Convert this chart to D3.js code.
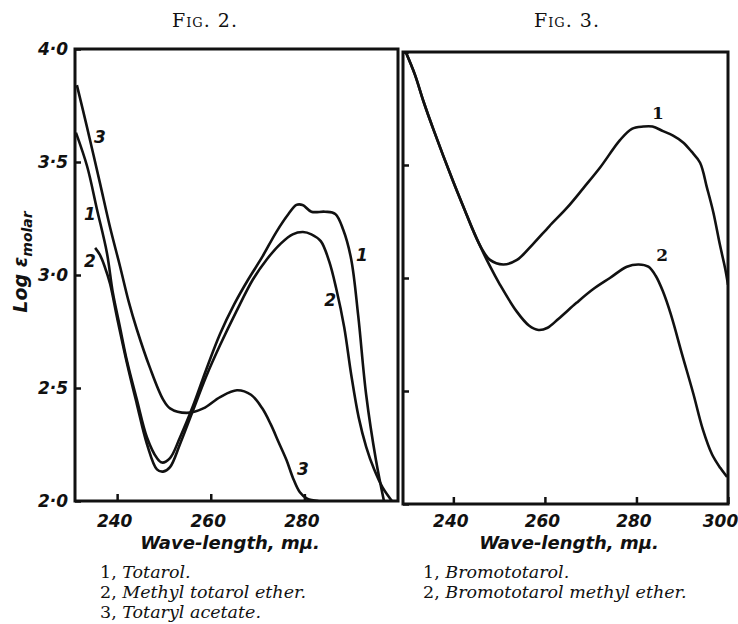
<!DOCTYPE html>
<html>
<head>
<meta charset="utf-8">
<script src="https://cdn.jsdelivr.net/npm/d3@7"></script>
<style>
  body { margin: 0; background: #fff; }
  svg { display: block; }
  .axis .tick text { font-family: 'DejaVu Sans'; font-weight: bold; font-style: italic; font-size: 17px; fill: #111; }
  .axis .tick line { stroke: #111; stroke-width: 2.5; }
  .axis .domain { display: none; }
</style>
</head>
<body>
<div id="chart"></div>
<script>
// Fig. 2 curves: [wave-length mu, log eps]
const totarol = [[231.2,3.63],[233.6,3.48],[235.7,3.29],[237.8,3.10],[239.1,2.92],[240.5,2.78],[242.1,2.62],[244.2,2.45],[246.4,2.28],[248.5,2.19],[249.6,2.17],[251.3,2.19],[253.4,2.28],[256.2,2.42],[259.0,2.58],[262.0,2.74],[265.0,2.87],[268.0,2.98],[271.0,3.08],[274.0,3.19],[276.6,3.27],[278.3,3.31],[279.6,3.31],[281.5,3.28],[284.4,3.28],[286.6,3.27],[288.3,3.20],[290.0,3.07],[291.5,2.82],[293.2,2.47],[295.3,2.18],[297.0,2.0]];
const methylTotarolEther = [[235.3,3.12],[236.3,3.09],[237.3,3.04],[238.5,2.96],[240.0,2.81],[242.1,2.61],[244.2,2.43],[246.4,2.25],[248.5,2.14],[249.8,2.13],[251.3,2.15],[253.4,2.25],[256.2,2.40],[259.0,2.55],[262.0,2.69],[265.5,2.84],[269.0,2.98],[272.0,3.07],[275.0,3.14],[277.5,3.18],[279.7,3.19],[281.5,3.18],[283.5,3.15],[285.3,3.06],[286.8,2.94],[288.5,2.77],[290.0,2.56],[291.6,2.37],[293.2,2.24],[294.9,2.14],[296.7,2.06],[298.7,2.0]];
const totarylAcetate = [[231.4,3.84],[233.5,3.66],[236.3,3.41],[238.5,3.21],[240.6,3.04],[242.5,2.88],[244.2,2.76],[247.0,2.59],[249.8,2.45],[251.3,2.41],[254.9,2.39],[258.4,2.41],[262.0,2.46],[265.6,2.49],[268.6,2.47],[271.0,2.41],[272.8,2.34],[274.5,2.26],[276.2,2.18],[277.6,2.10],[279.0,2.04],[280.6,2.01],[283.0,2.0]];

// Fig. 3 curves
const bromototarol = [[229.6,4.0],[231.6,3.90],[233.5,3.78],[235.6,3.66],[239.9,3.43],[242.5,3.30],[244.3,3.21],[246.2,3.13],[248.0,3.08],[250.9,3.06],[253.9,3.08],[257.4,3.15],[261.0,3.23],[264.8,3.31],[268.5,3.40],[272.1,3.49],[276.4,3.61],[279.0,3.66],[281.5,3.67],[283.5,3.67],[285.8,3.65],[288.0,3.63],[290.2,3.60],[292.0,3.56],[293.9,3.51],[295.4,3.40],[296.8,3.29],[298.2,3.15],[299.4,3.04],[300.0,2.97]];
const bromototarolMethylEther = [[229.6,4.0],[231.6,3.90],[233.5,3.78],[235.6,3.66],[239.9,3.43],[242.5,3.30],[245.2,3.17],[247.8,3.06],[250.2,2.97],[253.9,2.85],[256.5,2.79],[258.6,2.77],[260.6,2.78],[263.0,2.82],[266.9,2.89],[270.5,2.95],[274.2,3.00],[277.9,3.05],[280.5,3.06],[282.6,3.05],[284.2,3.01],[285.8,2.94],[287.5,2.84],[290.0,2.66],[292.4,2.49],[294.5,2.33],[296.5,2.22],[298.3,2.16],[299.8,2.12]];

const yTicks = [2.0, 2.5, 3.0, 3.5, 4.0];
const fig2XTicks = [240, 260, 280];
const fig3XTicks = [240, 260, 280, 300];
const fig2Legend = [['1,', 'Totarol.'], ['2,', 'Methyl totarol ether.'], ['3,', 'Totaryl acetate.']];
const fig3Legend = [['1,', 'Bromototarol.'], ['2,', 'Bromototarol methyl ether.']];

const svg = d3.select('#chart').append('svg')
  .attr('width', 738)
  .attr('height', 624);

function drawPanel(p) {
  const x = d3.scaleLinear().domain(p.xDomain).range([p.left, p.right]);
  const y = d3.scaleLinear().domain([2, 4]).range([p.bottom, p.top]);
  const g = svg.append('g');
  const clipId = 'clip' + p.id;

  g.append('clipPath').attr('id', clipId)
    .append('rect')
    .attr('x', p.left).attr('y', p.top)
    .attr('width', p.right - p.left).attr('height', p.bottom - p.top);

  /* axes */
  const xAxis = d3.axisBottom(x)
    .tickValues(p.xTicks)
    .tickSizeInner(-7)
    .tickSizeOuter(0)
    .tickPadding(0)
    .tickFormat(d3.format('d'));
  const xg = g.append('g')
    .attr('class', 'axis')
    .attr('transform', `translate(0, ${p.bottom})`)
    .call(xAxis);
  xg.selectAll('.tick text')
    .attr('y', 527 - p.bottom)
    .attr('dy', 0)
    .attr('dx', d => d === 300 ? -8 : -3);

  const yAxis = d3.axisLeft(y)
    .tickValues(yTicks)
    .tickSizeInner(-6)
    .tickSizeOuter(0)
    .tickPadding(7)
    .tickFormat(d => p.yLabels ? d3.format('.1f')(d).replace('.', '\u00b7') : '');
  g.append('g')
    .attr('class', 'axis')
    .attr('transform', `translate(${p.left}, 0)`)
    .call(yAxis);

  /* frame */
  g.append('rect')
    .attr('x', p.left).attr('y', p.top)
    .attr('width', p.right - p.left).attr('height', p.bottom - p.top)
    .style('fill', 'none')
    .style('stroke', '#111')
    .style('stroke-width', 3);

  /* curves */
  const line = d3.line()
    .x(d => x(d[0]))
    .y(d => y(d[1]))
    .curve(d3.curveCatmullRom.alpha(0.5));
  g.append('g')
    .attr('clip-path', `url(#${clipId})`)
    .selectAll('path')
    .data(p.series)
    .enter().append('path')
    .attr('d', line)
    .style('fill', 'none')
    .style('stroke', '#111')
    .style('stroke-width', 2.6)
    .style('stroke-linejoin', 'round');

  /* curve numbers */
  g.selectAll('.num')
    .data(p.numbers)
    .enter().append('text')
    .attr('x', d => x(d[1]))
    .attr('y', d => y(d[2]))
    .attr('dy', '0.35em')
    .style('text-anchor', 'middle')
    .style('font-family', p.numFont)
    .style('font-weight', 'bold')
    .style('font-style', p.numItalic ? 'italic' : 'normal')
    .style('font-size', '17px')
    .style('fill', '#111')
    .text(d => d[0]);

  /* title */
  g.append('text')
    .attr('x', p.titleX).attr('y', 27)
    .style('text-anchor', 'middle')
    .style('font-family', 'DejaVu Serif')
    .style('font-variant', 'small-caps')
    .style('font-size', '19px')
    .style('letter-spacing', '1px')
    .style('fill', '#111')
    .text(p.title);

  /* x label */
  g.append('text')
    .attr('x', p.xLabelX).attr('y', 549)
    .style('text-anchor', 'middle')
    .style('font-family', 'DejaVu Sans')
    .style('font-weight', 'bold')
    .style('font-style', 'italic')
    .style('font-size', '18px')
    .style('fill', '#111')
    .text('Wave-length, m\u03bc.');

  /* legend */
  const leg = g.selectAll('.legend')
    .data(p.legend)
    .enter().append('text')
    .attr('x', p.legendX)
    .attr('y', (d, i) => 578 + i * 20)
    .style('font-family', 'DejaVu Serif')
    .style('font-size', '17.5px')
    .style('fill', '#111');
  leg.append('tspan').text(d => d[0] + ' ');
  leg.append('tspan').style('font-style', 'italic').text(d => d[1]);
}

drawPanel({
  id: 2, left: 75, right: 398, top: 49, bottom: 501,
  xDomain: [231, 300], xTicks: fig2XTicks, yLabels: true,
  series: [totarol, methylTotarolEther, totarylAcetate],
  numbers: [['3', 236.3, 3.61], ['1', 234.2, 3.27], ['2', 234.2, 3.06],
            ['1', 292.3, 3.09], ['2', 285.5, 2.89], ['3', 279.7, 2.14]],
  numFont: 'DejaVu Sans', numItalic: true,
  title: 'Fig. 2.', titleX: 205, xLabelX: 230,
  legend: fig2Legend, legendX: 100
});

drawPanel({
  id: 3, left: 403, right: 728, top: 52, bottom: 504,
  xDomain: [229, 300], xTicks: fig3XTicks, yLabels: false,
  series: [bromototarol, bromototarolMethylEther],
  numbers: [['1', 284.7, 3.73], ['2', 285.6, 3.10]],
  numFont: 'DejaVu Serif', numItalic: false,
  title: 'Fig. 3.', titleX: 567, xLabelX: 569,
  legend: fig3Legend, legendX: 423
});

/* y axis title */
const yTitle = svg.append('text')
  .attr('transform', 'translate(27, 262) rotate(-90)')
  .style('text-anchor', 'middle')
  .style('font-family', 'DejaVu Sans')
  .style('font-weight', 'bold')
  .style('font-style', 'italic')
  .style('font-size', '19px')
  .style('fill', '#111');
yTitle.append('tspan').text('Log \u03b5');
yTitle.append('tspan').attr('dy', 5).style('font-size', '14px').text('molar');
</script>
</body>
</html>
